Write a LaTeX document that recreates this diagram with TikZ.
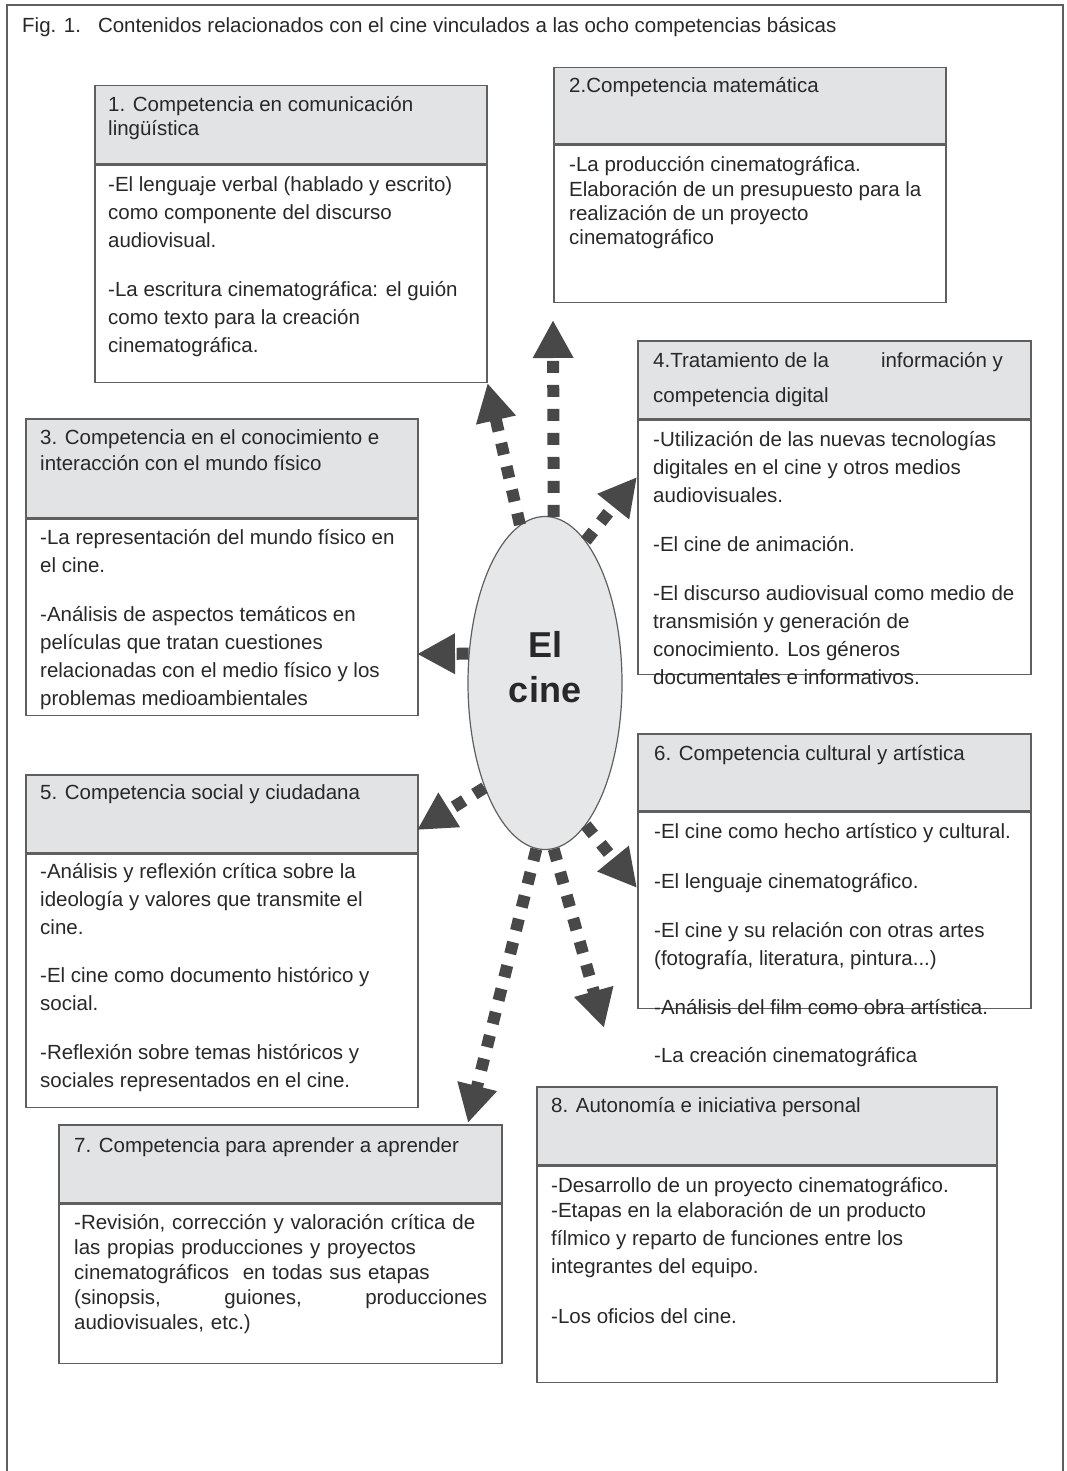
\documentclass[tikz,border=0pt]{standalone}
\usepackage{fontspec}
\setmainfont{Liberation Sans}
\usetikzlibrary{arrows.meta,shapes.geometric}

\definecolor{hdrgray}{RGB}{226,227,229}
\definecolor{cinegray}{RGB}{230,231,233}
\definecolor{linegray}{RGB}{95,95,95}
\definecolor{arrowgray}{RGB}{72,72,72}
\definecolor{textgray}{RGB}{40,40,40}

\tikzset{
  hdr/.style={draw=linegray, line width=1.5pt, fill=hdrgray, anchor=north west, inner sep=0pt},
  bdy/.style={draw=linegray, line width=1.5pt, fill=white, anchor=north west, inner sep=0pt},
  txt/.style={anchor=north west, inner sep=0pt, align=left, text=textgray,
    font=\fontsize{20.5}{28}\selectfont},
  link/.style={draw=arrowgray, line width=12pt, dash pattern=on 12pt off 12pt,
    -{Triangle[length=38pt,width=38pt]}}
}

\begin{document}
\begin{tikzpicture}[x=1pt,y=-1pt]
\useasboundingbox (0,0) rectangle (1066,1471);
\draw[linegray, line width=1.5pt] (7,1471) -- (7,5) -- (1063,5) -- (1063,1471);

\node[txt] (title) at (22,17) {Fig. 1.\hspace{17pt}Contenidos relacionados con el cine vinculados a las ocho competencias básicas};

% 1
\node[hdr, minimum width=392pt, minimum height=78pt] (h1) at (94,85) {};
\node[bdy, minimum width=392pt, minimum height=217pt] (b1) at (h1.south west) {};
\node[txt, font=\fontsize{20.5}{24}\selectfont] (th1) at ([shift={(14,11)}]h1.north west)
  {1. Competencia en comunicación\\lingüística};
\node[txt] (tb1) at ([shift={(14,12)}]b1.north west)
  {-El lenguaje verbal (hablado y escrito)\\como componente del discurso\\audiovisual.\\[21pt]
   -La escritura cinematográfica: el guión\\como texto para la creación\\cinematográfica.};

% 2
\node[hdr, minimum width=392pt, minimum height=76pt] (h2) at (553,67) {};
\node[bdy, minimum width=392pt, minimum height=157pt] (b2) at (h2.south west) {};
\node[txt] (th2) at ([shift={(16,10)}]h2.north west) {2.Competencia matemática};
\node[txt, font=\fontsize{20.5}{24.3}\selectfont] (tb2) at ([shift={(16,12)}]b2.north west)
  {-La producción cinematográfica.\\Elaboración de un presupuesto para la\\realización de un proyecto\\cinematográfico};

% 4
\node[hdr, minimum width=393pt, minimum height=78pt] (h4) at (637,340) {};
\node[bdy, minimum width=393pt, minimum height=254pt] (b4) at (h4.south west) {};
\node[txt] (th4) at ([shift={(16,12)}]h4.north west)
  {4.Tratamiento de la\hspace{52pt}información y\\[7pt]competencia digital};
\node[txt] (tb4) at ([shift={(16,12)}]b4.north west)
  {-Utilización de las nuevas tecnologías\\digitales en el cine y otros medios\\audiovisuales.\\[21pt]
   -El cine de animación.\\[21pt]
   -El discurso audiovisual como medio de\\transmisión y generación de\\conocimiento. Los géneros\\documentales e informativos.};

% 3
\node[hdr, minimum width=392pt, minimum height=99pt] (h3) at (25,418) {};
\node[bdy, minimum width=392pt, minimum height=196pt] (b3) at (h3.south west) {};
\node[txt, font=\fontsize{20.5}{26}\selectfont] (th3) at ([shift={(15,11)}]h3.north west)
  {3. Competencia en el conocimiento e\\interacción con el mundo físico};
\node[txt] (tb3) at ([shift={(15,11)}]b3.north west)
  {-La representación del mundo físico en\\el cine.\\[21pt]
   -Análisis de aspectos temáticos en\\películas que tratan cuestiones\\relacionadas con el medio físico y los\\problemas medioambientales};

% 5
\node[hdr, minimum width=392pt, minimum height=78pt] (h5) at (25,774) {};
\node[bdy, minimum width=392pt, minimum height=253pt] (b5) at (h5.south west) {};
\node[txt] (th5) at ([shift={(15,10)}]h5.north west) {5. Competencia social y ciudadana};
\node[txt] (tb5) at ([shift={(15,10)}]b5.north west)
  {-Análisis y reflexión crítica sobre la\\ideología y valores que transmite el\\cine.\\[20pt]
   -El cine como documento histórico y\\social.\\[21pt]
   -Reflexión sobre temas históricos y\\sociales representados en el cine.};

% 6
\node[hdr, minimum width=393pt, minimum height=77pt] (h6) at (637,733) {};
\node[bdy, minimum width=393pt, minimum height=196pt] (b6) at (h6.south west) {};
\node[txt] (th6) at ([shift={(17,12)}]h6.north west) {6. Competencia cultural y artística};
\node[txt] (tb6) at ([shift={(17,12)}]b6.north west)
  {-El cine como hecho artístico y cultural.\\[22pt]
   -El lenguaje cinematográfico.\\[21pt]
   -El cine y su relación con otras artes\\(fotografía, literatura, pintura...)\\[21pt]
   -Análisis del film como obra artística.\\[20pt]
   -La creación cinematográfica};

% 7
\node[hdr, minimum width=443pt, minimum height=78pt] (h7) at (58,1124) {};
\node[bdy, minimum width=443pt, minimum height=159pt] (b7) at (h7.south west) {};
\node[txt] (th7) at ([shift={(16,13)}]h7.north west) {7. Competencia para aprender a aprender};
\node[txt, text width=413pt, font=\fontsize{20.5}{25}\selectfont] (tb7) at ([shift={(16,11)}]b7.north west)
  {-Revisión, corrección y valoración crítica de\\las propias producciones y proyectos\\cinematográficos\ \ en todas sus etapas\\(sinopsis,\hfill guiones,\hfill producciones\\audiovisuales, etc.)};

% 8
\node[hdr, minimum width=460pt, minimum height=78pt] (h8) at (536,1086) {};
\node[bdy, minimum width=460pt, minimum height=216pt] (b8) at (h8.south west) {};
\node[txt] (th8) at ([shift={(15,11)}]h8.north west) {8. Autonomía e iniciativa personal};
\node[txt] (tb8) at ([shift={(15,12)}]b8.north west)
  {-Desarrollo de un proyecto cinematográfico.\\[-3pt]
   -Etapas en la elaboración de un producto\\fílmico y reparto de funciones entre los\\integrantes del equipo.\\[22pt]
   -Los oficios del cine.};

% centre
\node[ellipse, draw=linegray, line width=1.2pt, fill=cinegray, minimum width=154pt,
  minimum height=333pt, inner sep=0pt] (cine) at (545,683) {};
\node[font=\bfseries\fontsize{36}{45}\selectfont, align=center, text=textgray] (cinetxt)
  at (545,667) {El\\cine};

\coordinate (tip2) at (553,320);
\coordinate (tip4) at (637,477);
\coordinate (tip3) at (417,654);
\coordinate (tip5) at (417,830);
\coordinate (tip6) at (637,888);
\coordinate (tip8) at (604,1028);
\coordinate (tip7) at (468,1123);

\draw[link] (cine.99) -- (b1.south east);
\draw[link] (cine.87) -- (tip2);
\draw[link] (cine.74) -- (tip4);
\draw[link] (cine.159) -- (tip3);
\draw[link] (cine.240) -- (tip5);
\draw[link] (cine.286) -- (tip6);
\draw[link] (cine.273) -- (tip8);
\draw[link] (cine.267) -- (tip7);
\end{tikzpicture}
\end{document}
